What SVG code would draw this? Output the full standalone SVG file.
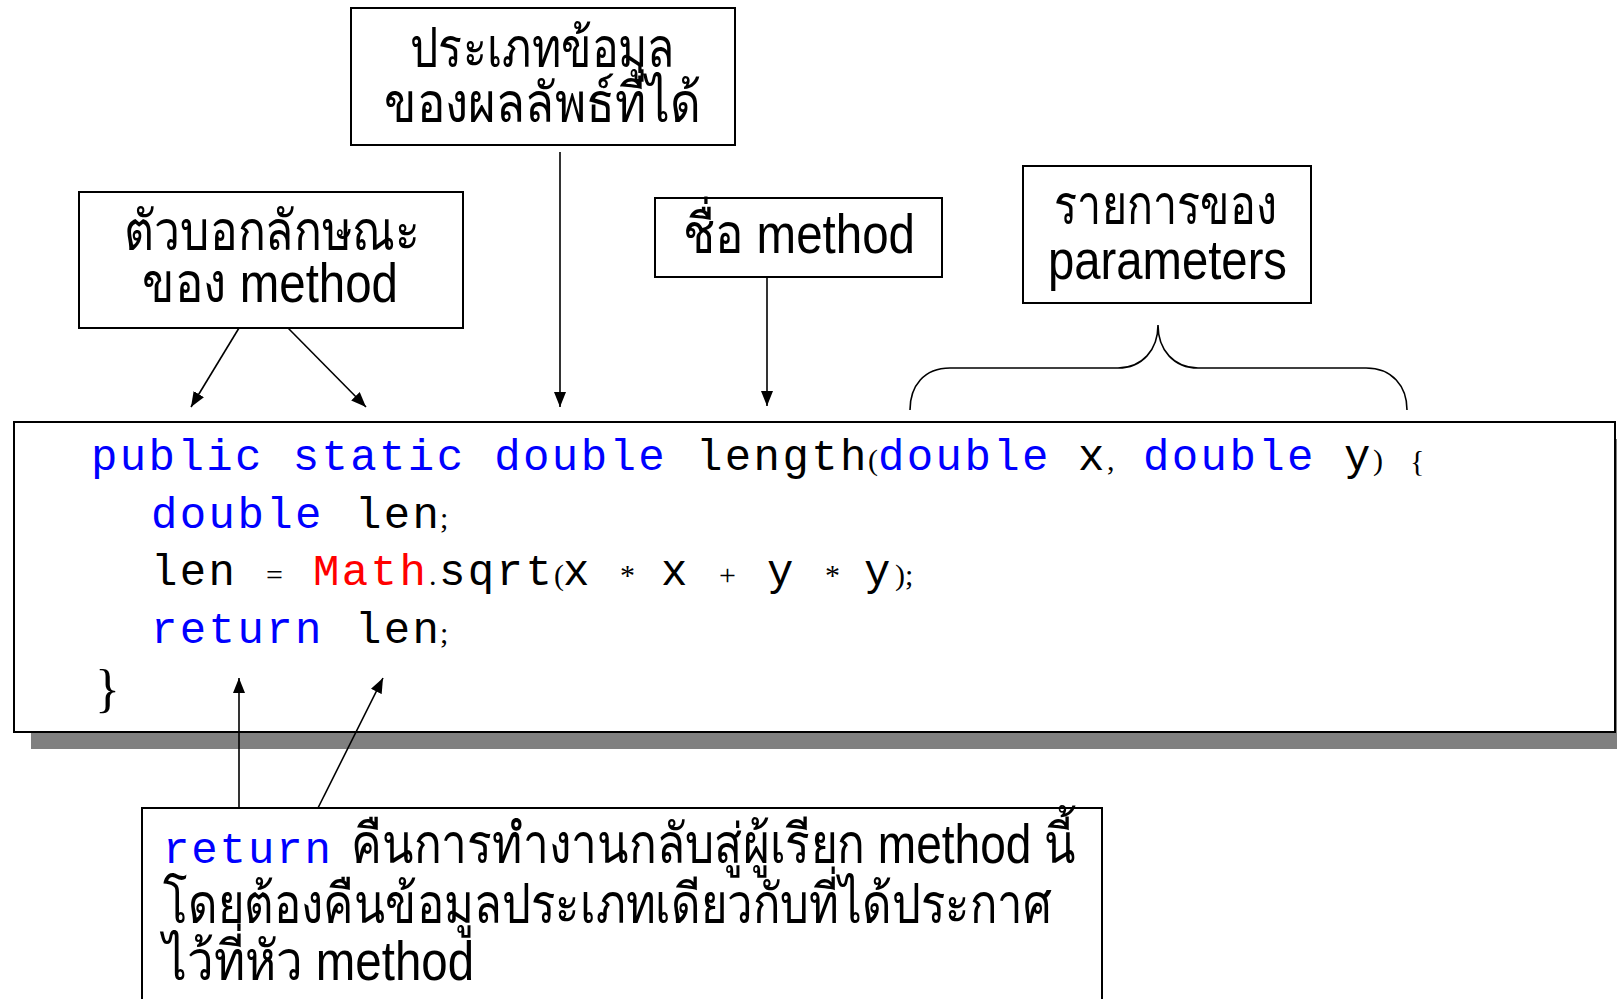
<svg xmlns="http://www.w3.org/2000/svg" width="1617" height="999" viewBox="0 0 1617 999">
<style>
.box{fill:#fff;stroke:#000;stroke-width:2}
.lbl{font-family:"Liberation Sans","DejaVu Sans",sans-serif;font-size:55px;fill:#000}
.mono{font-family:"Liberation Mono","DejaVu Sans Mono",monospace;font-size:44px;letter-spacing:2.4px}
.p{font-family:"Liberation Serif","DejaVu Serif",serif;font-size:30px;fill:#000}
.kw{fill:#0000ff}
.id{fill:#000}
.cls{fill:#ff0000}
.con{stroke:#000;stroke-width:1.6;fill:none}
</style>
<defs>
<marker id="ah" viewBox="0 0 15 12" refX="15" refY="6" markerWidth="15" markerHeight="12" markerUnits="userSpaceOnUse" orient="auto">
<path d="M0,0 L15,6 L0,12 z" fill="#000"/>
</marker>
</defs>
<rect width="1617" height="999" fill="#fff"/>

<g id="code">
<rect x="31" y="439" width="1601" height="310" fill="#808080"/>
<rect class="box" x="14" y="422" width="1601" height="310" stroke-width="2.5"/>
<text class="mono kw" x="91" y="470">public static double</text>
<text class="mono id" x="696" y="470">length</text>
<text class="p" x="868" y="470">(</text>
<text class="mono kw" x="878" y="470">double</text>
<text class="mono id" x="1078" y="470">x</text>
<text class="p" x="1107" y="470">,</text>
<text class="mono kw" x="1143" y="470">double</text>
<text class="mono id" x="1344" y="470">y</text>
<text class="p" x="1373" y="470">)</text>
<text class="p" x="1410" y="471">{</text>
<text class="mono kw" x="151" y="528">double</text>
<text class="mono id" x="355" y="528">len</text>
<text class="p" x="440" y="528">;</text>
<text class="mono id" x="151" y="585">len</text>
<text class="p" x="266" y="585">=</text>
<text class="mono cls" x="313" y="585">Math</text>
<text class="p" x="429" y="585">.</text>
<text class="mono id" x="439" y="585">sqrt</text>
<text class="p" x="554" y="585">(</text>
<text class="mono id" x="563" y="585">x</text>
<text class="p" x="620" y="585">*</text>
<text class="mono id" x="661" y="585">x</text>
<text class="p" x="719" y="585">+</text>
<text class="mono id" x="767" y="585">y</text>
<text class="p" x="825" y="585">*</text>
<text class="mono id" x="864" y="585">y</text>
<text class="p" x="895" y="585">);</text>
<text class="mono kw" x="151" y="643">return</text>
<text class="mono id" x="355" y="643">len</text>
<text class="p" x="440" y="643">;</text>
<text class="p" x="95" y="706" style="font-size:52px">}</text>
</g>

<g id="modifiers">
<rect class="box" x="79" y="192" width="384" height="136"/>
<text class="lbl" x="124" y="250" textLength="296" lengthAdjust="spacingAndGlyphs">ตัวบอกลักษณะ</text>
<text class="lbl" x="142" y="302" textLength="256" lengthAdjust="spacingAndGlyphs">ของ method</text>
</g>

<g id="returntype">
<rect class="box" x="351" y="8" width="384" height="137"/>
<text class="lbl" x="410" y="67" textLength="265" lengthAdjust="spacingAndGlyphs">ประเภทข้อมูล</text>
<text class="lbl" x="384" y="122" textLength="317" lengthAdjust="spacingAndGlyphs">ของผลลัพธ์ที่ได้</text>
</g>

<g id="methodname">
<rect class="box" x="655" y="198" width="287" height="79"/>
<text class="lbl" x="683" y="253" textLength="232" lengthAdjust="spacingAndGlyphs">ชื่อ method</text>
</g>

<g id="params">
<rect class="box" x="1023" y="166" width="288" height="137"/>
<text class="lbl" x="1054" y="224" textLength="223" lengthAdjust="spacingAndGlyphs">รายการของ</text>
<text class="lbl" x="1048" y="279" textLength="239" lengthAdjust="spacingAndGlyphs">parameters</text>
</g>

<g id="returnnote">
<rect class="box" x="142" y="808" width="960" height="230"/>
<text class="mono kw" x="163" y="863" style="font-size:44px;letter-spacing:1.9px">return</text>
<text class="lbl" x="351" y="863" textLength="725" lengthAdjust="spacingAndGlyphs">คืนการทำงานกลับสู่ผู้เรียก method นี้</text>
<text class="lbl" x="163" y="923" textLength="889" lengthAdjust="spacingAndGlyphs">โดยต้องคืนข้อมูลประเภทเดียวกับที่ได้ประกาศ</text>
<text class="lbl" x="163" y="980" textLength="311" lengthAdjust="spacingAndGlyphs">ไว้ที่หัว method</text>
</g>

<g id="connectors">
<line class="con" x1="239" y1="328" x2="191" y2="407" marker-end="url(#ah)"/>
<line class="con" x1="288" y1="328" x2="366" y2="407" marker-end="url(#ah)"/>
<line class="con" x1="560" y1="152" x2="560" y2="407" marker-end="url(#ah)"/>
<line class="con" x1="767" y1="277" x2="767" y2="406" marker-end="url(#ah)"/>
<path class="con" d="M910 410 C910 386 924 368 950 368 L1118 368 C1142 368 1158 350 1158 325 C1158 350 1174 368 1198 368 L1366 368 C1392 368 1407 386 1407 410"/>
<line class="con" x1="239" y1="808" x2="239" y2="678" marker-end="url(#ah)"/>
<line class="con" x1="318" y1="808" x2="383" y2="678" marker-end="url(#ah)"/>
</g>
</svg>
